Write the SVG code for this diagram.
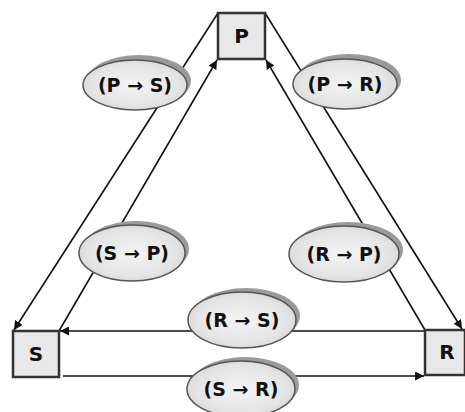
<svg xmlns="http://www.w3.org/2000/svg" width="465" height="412" viewBox="0 0 465 412">
<defs>
<marker id="ah" viewBox="0 0 10 10" refX="10" refY="5" markerWidth="9" markerHeight="9" markerUnits="userSpaceOnUse" orient="auto"><path d="M0,0 L10,5 L0,10 z" fill="#111"/></marker>
<radialGradient id="eg" cx="0.5" cy="0.5" r="0.6"><stop offset="0" stop-color="#f4f4f4"/><stop offset="0.7" stop-color="#e4e4e4"/><stop offset="1" stop-color="#cfcfcf"/></radialGradient>
<style>
.box{fill:#e8e8e8;stroke:#333;stroke-width:2.5}
.bl{font-family:"DejaVu Sans",sans-serif;font-weight:bold;font-size:20px;fill:#111;text-anchor:middle}
.ln{stroke:#111;stroke-width:1.6;fill:none}
.sh{fill:#9a9a9a}
.el{fill:url(#eg);stroke:#555;stroke-width:1.5}
.lt{font-family:"DejaVu Sans",sans-serif;font-weight:bold;font-size:19px;fill:#111;text-anchor:middle}
</style>
</defs>
<rect width="465" height="412" fill="#fff"/>
<g id="connectors">
<line class="ln" x1="218" y1="13" x2="14" y2="330" marker-end="url(#ah)"/>
<line class="ln" x1="59" y1="331" x2="217" y2="60" marker-end="url(#ah)"/>
<line class="ln" x1="265" y1="13" x2="462" y2="329" marker-end="url(#ah)"/>
<line class="ln" x1="425" y1="330" x2="266" y2="60" marker-end="url(#ah)"/>
<line class="ln" x1="425" y1="331" x2="60" y2="331" marker-end="url(#ah)"/>
<line class="ln" x1="63" y1="376" x2="424" y2="376" marker-end="url(#ah)"/>
</g>
<g id="P"><rect class="box" x="218" y="13" width="47" height="46"/><text class="bl" x="241.5" y="43">P</text></g>
<g id="S"><rect class="box" x="13" y="331" width="46" height="46"/><text class="bl" x="36" y="361">S</text></g>
<g id="R"><rect class="box" x="425" y="330" width="40" height="45"/><text class="bl" x="447" y="359">R</text></g>
<g id="PS"><ellipse class="sh" cx="139" cy="81" rx="52" ry="26"/><ellipse class="el" cx="135" cy="85" rx="52" ry="25"/><text class="lt" x="135" y="92">(P → S)</text></g>
<g id="PR"><ellipse class="sh" cx="349" cy="80" rx="52" ry="26"/><ellipse class="el" cx="345" cy="84" rx="52" ry="25"/><text class="lt" x="345" y="91">(P → R)</text></g>
<g id="SP"><ellipse class="sh" cx="136" cy="249" rx="53" ry="28"/><ellipse class="el" cx="132" cy="253" rx="53" ry="28"/><text class="lt" x="132" y="260">(S → P)</text></g>
<g id="RP"><ellipse class="sh" cx="348" cy="250" rx="55" ry="28"/><ellipse class="el" cx="344" cy="254" rx="55" ry="28"/><text class="lt" x="344" y="261">(R → P)</text></g>
<g id="RS"><ellipse class="sh" cx="246" cy="316" rx="54" ry="28"/><ellipse class="el" cx="242" cy="320" rx="54" ry="28"/><text class="lt" x="242" y="327">(R → S)</text></g>
<g id="SR"><ellipse class="sh" cx="245" cy="385" rx="54" ry="28"/><ellipse class="el" cx="241" cy="389" rx="54" ry="28"/><text class="lt" x="241" y="396">(S → R)</text></g>
</svg>
